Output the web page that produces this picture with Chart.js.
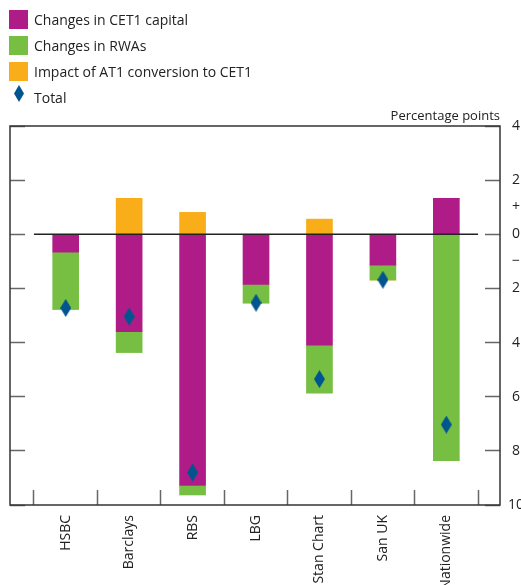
<!DOCTYPE html>
<html>
<head>
<meta charset="utf-8">
<script src="https://cdn.jsdelivr.net/npm/chart.js@4.4.1/dist/chart.umd.min.js"></script>
<style>
html, body { margin: 0; padding: 0; background: #fff; overflow: hidden; width: 521px; height: 585px; }
#wrap { position: relative; width: 521px; height: 585px; overflow: hidden; }
#chart { position: absolute; left: 0; top: 0; }
.legend { position: absolute; left: 9px; top: 10px; font: 14px 'Open Sans', sans-serif; color: #222; }
.legend div { position: relative; height: 26px; line-height: 19px; padding-left: 25px; white-space: nowrap; }
.legend i { position: absolute; left: 0; top: 0; width: 19px; height: 19px; }
.legend i.dia { left: 5px; top: -3px; width: 10px; height: 17px; background: #00558f; clip-path: polygon(50% 0, 100% 50%, 50% 100%, 0 50%); }
.unit { position: absolute; right: 21px; top: 106px; font: 13px 'Open Sans', sans-serif; color: #222; }
</style>
</head>
<body>
<div id="wrap">
  <canvas id="chart" width="540" height="585"></canvas>
  <div class="legend">
    <div><i style="background:#b01c87"></i>Changes in CET1 capital</div>
    <div><i style="background:#77bf43"></i>Changes in RWAs</div>
    <div><i style="background:#f9ae19"></i>Impact of AT1 conversion to CET1</div>
    <div><i class="dia"></i>Total</div>
  </div>
  <div class="unit">Percentage points</div>
</div>
<script>
// valores (puntos porcentuales)
const banks = ['HSBC', 'Barclays', 'RBS', 'LBG', 'Stan Chart', 'San UK', 'Nationwide'];
const cet1 = [-0.66, -3.6, -9.28, -1.85, -4.1, -1.14, 1.33];
const rwas = [-2.12, -0.77, -0.35, -0.69, -1.77, -0.55, -8.36];
const at1 = [0, 1.33, 0.81, 0, 0.56, 0, 0];
const total = [-2.72, -3.04, -8.8, -2.53, -5.35, -1.68, -7.03];
const yTickValues = [4, 2, 1, 0, -1, -2, -4, -6, -8, -10];
const yTickLabels = ['4', '2', '+', '0', '\u2212', '2', '4', '6', '8', '10'];

const pts = arr => arr.map((v, i) => ({ x: i, y: v }));

// rombo alargado para el total
const dia = document.createElement('canvas');
dia.width = 11; dia.height = 18;
(c => {
    c.fillStyle = '#00558f';
    c.beginPath(); c.moveTo(5.5, 0); c.lineTo(11, 9); c.lineTo(5.5, 18); c.lineTo(0, 9); c.closePath(); c.fill();
})(dia.getContext('2d'));

const frame = {
    id: 'frame',
    afterDraw(chart) {
        const { ctx, chartArea: a } = chart;
        ctx.save();
        ctx.strokeStyle = '#333';
        ctx.lineWidth = 1.5;
        ctx.strokeRect(a.left, a.top, a.right - a.left, a.bottom - a.top);
        ctx.restore();
    }
};

const tickColor = c => (c.tick && Math.abs(c.tick.value) === 1) ? 'rgba(0,0,0,0)' : '#666';
const setYTicks = s => { s.ticks = yTickValues.map(v => ({ value: v })); };

new Chart(document.getElementById('chart'), {
    type: 'bar',
    data: {
        datasets: [
            { type: 'scatter', label: 'Total', data: pts(total), pointStyle: dia, pointRadius: 9, stack: 'total', order: 0 },
            { type: 'line', label: 'zero', data: [{ x: -0.5, y: 0 }, { x: 6.5, y: 0 }], borderColor: '#222', borderWidth: 1.5, pointRadius: 0, stack: 'zero', order: 1 },
            { label: 'Changes in CET1 capital', data: pts(cet1), backgroundColor: '#b01c87', stack: 'banks', order: 3 },
            { label: 'Changes in RWAs', data: pts(rwas), backgroundColor: '#77bf43', stack: 'banks', order: 3 },
            { label: 'Impact of AT1 conversion to CET1', data: pts(at1), backgroundColor: '#f9ae19', stack: 'banks', order: 3 }
        ]
    },
    options: {
        responsive: false,
        animation: false,
        barThickness: 26,
        layout: { padding: { left: 9, top: 126, right: 0, bottom: 0 } },
        plugins: { legend: { display: false }, tooltip: { enabled: false } },
        scales: {
            x: {
                type: 'linear', min: -0.878, max: 6.846, offset: false,
                afterBuildTicks: s => { s.ticks = banks.map((b, i) => ({ value: i })); },
                afterFit: s => { s.height = 80; },
                grid: { offset: true, drawOnChartArea: false, tickLength: -15, tickColor: '#666', tickWidth: 1.5 },
                border: { display: false },
                ticks: {
                    autoSkip: false, minRotation: 90, maxRotation: 90, padding: 25,
                    color: '#222', font: { family: 'Open Sans', size: 14 },
                    callback: v => banks[v]
                }
            },
            y: {
                position: 'right', stacked: true, min: -10, max: 4,
                afterBuildTicks: setYTicks,
                afterFit: s => { s.width = 40; },
                grid: { drawOnChartArea: false, tickLength: -15, tickColor: tickColor, tickWidth: 1.5 },
                border: { display: false },
                ticks: {
                    autoSkip: false, padding: 23, crossAlign: 'center', color: '#222', font: { family: 'Open Sans', size: 14 },
                    callback: (v, i) => yTickLabels[i]
                }
            },
            y2: {
                position: 'left', min: -10, max: 4,
                afterBuildTicks: setYTicks,
                afterFit: s => { s.width = 0; },
                grid: { drawOnChartArea: false, tickLength: -15, tickColor: tickColor, tickWidth: 1.5 },
                border: { display: false },
                ticks: { display: false }
            }
        }
    },
    plugins: [frame]
});
</script>
</body>
</html>
